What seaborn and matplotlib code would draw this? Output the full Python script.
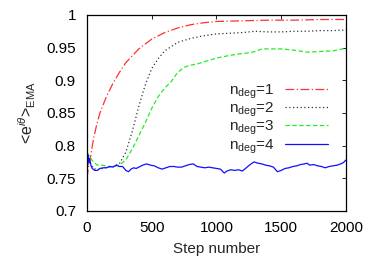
import pandas as pd
import matplotlib
matplotlib.use("Agg")
import matplotlib.pyplot as plt
import seaborn as sns

# n_deg = 1 (red, dash-dot)
step1 = [0, 10, 25, 50, 75, 100, 150, 200, 250, 300, 400, 500, 600, 700, 800, 900,
         1000, 1200, 1400, 1600, 1800, 2000]
val1 = [0.75, 0.765, 0.78, 0.81, 0.832, 0.85, 0.875, 0.895, 0.912, 0.927, 0.948, 0.963,
        0.973, 0.980, 0.985, 0.988, 0.990, 0.991, 0.992, 0.992, 0.993, 0.993]

# n_deg = 2 (grey, dotted)
step2 = [0, 20, 50, 80, 120, 160, 200, 250, 300, 350, 400, 450, 500, 550, 600, 700, 800,
         900, 1000, 1100, 1200, 1300, 1400, 1500, 1600, 1700, 1800, 1900, 2000]
val2 = [0.79, 0.775, 0.765, 0.763, 0.765, 0.767, 0.768, 0.772, 0.790, 0.822, 0.860, 0.893,
        0.918, 0.933, 0.945, 0.958, 0.964, 0.968, 0.971, 0.972, 0.973, 0.975, 0.974, 0.974,
        0.975, 0.975, 0.976, 0.976, 0.977]

# n_deg = 3 (green, dashed)
step3 = [0, 15, 30, 50, 80, 120, 160, 200, 250, 300, 350, 400, 450, 500, 550, 600, 650,
         700, 750, 800, 850, 900, 950, 1000, 1100, 1200, 1250, 1300, 1350, 1400, 1500,
         1600, 1700, 1800, 1900, 2000]
val3 = [0.79, 0.785, 0.78, 0.775, 0.770, 0.770, 0.768, 0.768, 0.770, 0.778, 0.795, 0.815,
        0.835, 0.857, 0.875, 0.888, 0.898, 0.912, 0.920, 0.923, 0.925, 0.928, 0.931, 0.934,
        0.938, 0.941, 0.942, 0.944, 0.948, 0.948, 0.948, 0.946, 0.943, 0.944, 0.945, 0.949]

# n_deg = 4 (blue, solid)
step4 = [0, 5, 10, 15, 20, 30, 40, 60, 80, 100, 125, 150, 175, 200, 225, 250, 275, 300,
         320, 340, 360, 380, 400, 430, 460, 490, 520, 550, 580, 610, 640, 670, 700, 730,
         760, 790, 820, 850, 880, 910, 940, 970, 1000, 1030, 1060, 1080, 1110, 1140, 1170,
         1200, 1230, 1260, 1290, 1320, 1350, 1380, 1410, 1440, 1470, 1500, 1530, 1560,
         1590, 1620, 1650, 1680, 1700, 1720, 1750, 1780, 1810, 1840, 1870, 1900, 1930,
         1960, 1980, 2000]
val4 = [0.80, 0.77, 0.785, 0.775, 0.78, 0.77, 0.765, 0.762, 0.762, 0.765, 0.766, 0.766,
        0.768, 0.767, 0.770, 0.768, 0.768, 0.762, 0.760, 0.764, 0.766, 0.765, 0.767, 0.770,
        0.772, 0.770, 0.769, 0.766, 0.764, 0.766, 0.768, 0.768, 0.767, 0.767, 0.769, 0.771,
        0.772, 0.768, 0.767, 0.766, 0.767, 0.766, 0.765, 0.764, 0.758, 0.761, 0.763, 0.762,
        0.763, 0.761, 0.766, 0.771, 0.775, 0.773, 0.772, 0.770, 0.769, 0.767, 0.760, 0.762,
        0.765, 0.766, 0.768, 0.769, 0.771, 0.772, 0.773, 0.770, 0.771, 0.769, 0.768, 0.766,
        0.768, 0.769, 0.770, 0.772, 0.774, 0.778]

labels = [r'n$_{\rm deg}$=1', r'n$_{\rm deg}$=2', r'n$_{\rm deg}$=3', r'n$_{\rm deg}$=4']

sns.set_style("white")
plt.rcParams['font.family'] = ['Liberation Sans', 'DejaVu Sans']
plt.rcParams['mathtext.fontset'] = 'custom'
plt.rcParams['mathtext.rm'] = 'Liberation Sans'
plt.rcParams['mathtext.it'] = 'Liberation Sans:italic'

fig = plt.figure(figsize=(3.74, 2.62), dpi=100)
ax = fig.add_axes([0.2326, 0.195, 0.6925, 0.748])

series = [(step1, val1, '#ff3030', (0, (7, 2, 1, 2))),
          (step2, val2, '#333333', (0, (1, 2))),
          (step3, val3, '#20ee20', (0, (3.5, 2))),
          (step4, val4, '#1010ff', '-')]
for (s, v, c, ls), lab in zip(series, labels):
    d = pd.DataFrame({'step': s, 'val': v})
    sns.lineplot(data=d, x='step', y='val', ax=ax, color=c, linestyle=ls,
                 linewidth=0.9, label=lab, sort=False, estimator=None)

ax.set_xlim(0, 2000)
ax.set_ylim(0.7, 1.0)
ax.set_xticks([0, 500, 1000, 1500, 2000])
ax.set_yticks([0.7, 0.75, 0.8, 0.85, 0.9, 0.95, 1.0])
ax.set_yticklabels(['0.7', '0.75', '0.8', '0.85', '0.9', '0.95', '1'])
ax.tick_params(direction='in', length=3, width=0.6, top=True, right=True,
               labelsize=11, colors='black')
ax.tick_params(axis='y', pad=8)
ax.tick_params(axis='x', pad=7)
for sp in ax.spines.values():
    sp.set_color('black')
    sp.set_linewidth(0.9)

ax.set_xlabel('Step number', fontsize=11, labelpad=5)
ax.set_ylabel(r'<e$^{i\theta}$>$_{\rm EMA}$', fontsize=11.5, labelpad=6)

leg = ax.legend(loc='upper right', bbox_to_anchor=(0.961, 0.695), frameon=False,
                markerfirst=False, fontsize=11, handlelength=2.8,
                labelspacing=0.0, handletextpad=0.7, borderpad=0)

fig.savefig('out.png', dpi=100)
